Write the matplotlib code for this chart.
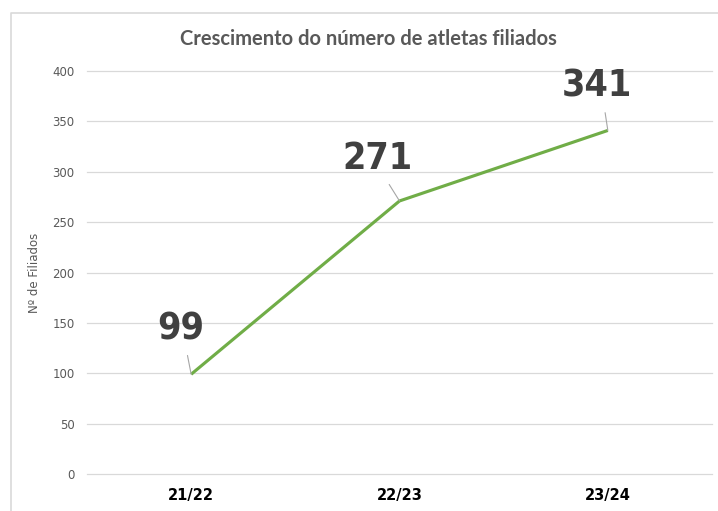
import matplotlib.pyplot as plt
from matplotlib.lines import Line2D

# dados
epocas = ['21/22', '22/23', '23/24']
filiados = [99, 271, 341]
# deslocamento das etiquetas (pixels)
offsets = [(-10, 45), (-22, 42), (-11, 44)]

fig = plt.figure(figsize=(7.18, 5.11), dpi=100)
ax = fig.add_axes([87 / 718, 37 / 511, 625 / 718, 403 / 511])

x = list(range(len(epocas)))
ax.plot(x, filiados, color='#70AD47', lw=2.25, solid_capstyle='butt')

ax.set_xlim(-0.5, len(epocas) - 0.5)
ax.set_ylim(0, 400)
ax.set_yticks(range(0, 401, 50))
ax.grid(axis='y', color='#d9d9d9', lw=0.9)
for gl in ax.get_ygridlines():
    gl.set_clip_on(False)
ax.set_axisbelow(True)
for s in ax.spines.values():
    s.set_visible(False)

ax.set_xticks(x)
ax.set_xticklabels(epocas, fontsize=10.5, fontweight='bold', color='black')
ax.tick_params(axis='x', length=0, pad=10)
ax.tick_params(axis='y', length=0, pad=9, labelsize=8.5, labelcolor='#595959')
ax.set_ylabel('Nº de Filiados', fontsize=8.5, color='#595959', labelpad=8)

for xi, v, off in zip(x, filiados, offsets):
    ax.annotate(str(v), xy=(xi, v), xytext=off, textcoords='offset pixels',
                ha='center', va='center', fontsize=27, fontweight='bold',
                fontstretch='condensed', family='DejaVu Sans', color='#404040',
                arrowprops=dict(arrowstyle='-', color='#a6a6a6', lw=0.8,
                                shrinkA=4, shrinkB=0, relpos=(0.6, 0)))

fig.text(368 / 718, 1 - 39 / 511, 'Crescimento do número de atletas filiados',
         ha='center', va='center', fontsize=14.5, fontweight='bold',
         family='Lato', color='#595959')

# moldura do gráfico
fig.add_artist(Line2D([11 / 718, 11 / 718, 1], [0, 1 - 13 / 511, 1 - 13 / 511],
                      transform=fig.transFigure, color='#d9d9d9', lw=1.2))

fig.savefig('out.png', dpi=100)
